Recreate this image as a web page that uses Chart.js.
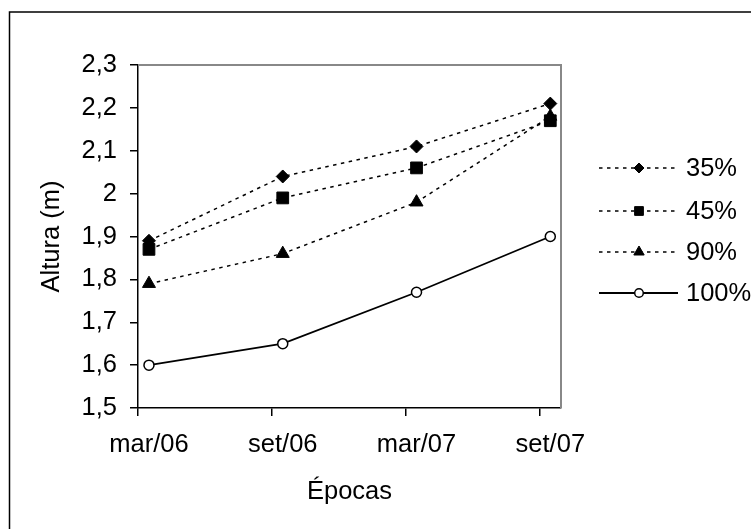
<!DOCTYPE html>
<html>
<head>
<meta charset="utf-8">
<script src="https://cdn.jsdelivr.net/npm/chart.js@4/dist/chart.umd.min.js"></script>
<style>
  body { margin: 0; background: #fff; }
  canvas { display: block; }
</style>
</head>
<body>
<canvas id="chart" width="751" height="529"></canvas>
<script>
// data
var epocas = ["mar/06", "set/06", "mar/07", "set/07"];
var serie35 = [1.89, 2.04, 2.11, 2.21];
var serie45 = [1.87, 1.99, 2.06, 2.17];
var serie90 = [1.79, 1.86, 1.98, 2.18];
var serie100 = [1.60, 1.65, 1.77, 1.90];
var yTicks = [1.5, 1.6, 1.7, 1.8, 1.9, 2.0, 2.1, 2.2, 2.3];

var FONT = "'Liberation Sans', Arial, sans-serif";
var fontSize = 25.5;

function pts(arr) {
	return arr.map(function (v, i) { return { x: i, y: v }; });
}

var dash = [3.5, 4.5];

var datasets = [
	{ label: "35%", data: pts(serie35), borderColor: "#000", borderWidth: 1.5, borderDash: dash,
	  pointStyle: "rectRot", pointRadius: 6.5, pointBackgroundColor: "#000", pointBorderColor: "#000", pointBorderWidth: 1, legendRadius: 5 },
	{ label: "45%", data: pts(serie45), borderColor: "#000", borderWidth: 1.5, borderDash: dash,
	  pointStyle: "rect", pointRadius: 8.3, pointBackgroundColor: "#000", pointBorderColor: "#000", pointBorderWidth: 1, legendRadius: 6.2 },
	{ label: "90%", data: pts(serie90), borderColor: "#000", borderWidth: 1.5, borderDash: dash,
	  pointStyle: "triangle", pointRadius: 7.5, pointBackgroundColor: "#000", pointBorderColor: "#000", pointBorderWidth: 1, legendRadius: 6 },
	{ label: "100%", data: pts(serie100), borderColor: "#000", borderWidth: 1.8,
	  pointStyle: "circle", pointRadius: 5, pointBackgroundColor: "#fff", pointBorderColor: "#000", pointBorderWidth: 1.5, legendRadius: 4.3 }
];

var framePlugin = {
	id: "frame",
	beforeDatasetsDraw: function (chart) {
		var ctx = chart.ctx, a = chart.chartArea;
		ctx.save();
		ctx.strokeStyle = "#888";
		ctx.lineWidth = 2;
		ctx.beginPath();
		ctx.moveTo(a.left, a.top);
		ctx.lineTo(a.right, a.top);
		ctx.lineTo(a.right, a.bottom);
		ctx.stroke();
		ctx.restore();
	},
	afterDraw: function (chart) {
		var ctx = chart.ctx;
		ctx.save();
		// outer frame (cut off right and bottom)
		ctx.strokeStyle = "#000";
		ctx.lineWidth = 1.5;
		ctx.strokeRect(9.5, 12, 1000, 1000);

		// legend
		var rows = [168, 211, 252, 293];
		chart.data.datasets.forEach(function (ds, i) {
			var y = rows[i];
			ctx.strokeStyle = "#000";
			ctx.lineWidth = ds.borderWidth;
			ctx.setLineDash(ds.borderDash || []);
			ctx.beginPath();
			ctx.moveTo(599, y);
			ctx.lineTo(678, y);
			ctx.stroke();
			ctx.setLineDash([]);
			ctx.fillStyle = ds.pointBackgroundColor;
			ctx.strokeStyle = ds.pointBorderColor;
			ctx.lineWidth = ds.pointBorderWidth;
			Chart.helpers.drawPoint(ctx, { pointStyle: ds.pointStyle, radius: ds.legendRadius, rotation: 0, borderWidth: ds.pointBorderWidth }, 639, y);
			ctx.fillStyle = "#000";
			ctx.font = fontSize + "px " + FONT;
			ctx.textAlign = "left";
			ctx.textBaseline = "middle";
			ctx.fillText(ds.label, 686, y + 1);
		});
		ctx.restore();
	}
};

var ctx = document.getElementById("chart").getContext("2d");
var chart = new Chart(ctx, {
	type: "line",
	data: { datasets: datasets },
	plugins: [framePlugin],
	options: {
		responsive: false,
		animation: false,
		layout: { padding: { left: 10, top: 65, right: 190, bottom: 0 } },
		plugins: { legend: { display: false }, tooltip: { enabled: false } },
		scales: {
			x: {
				type: "linear",
				min: -0.082,
				max: 3.08,
				afterBuildTicks: function (scale) {
					scale.ticks = epocas.map(function (c, i) { return { value: i - 0.082 }; });
				},
				afterFit: function (scale) { scale.height = 121; },
				grid: { display: true, drawOnChartArea: false, drawTicks: true, tickLength: 8, color: "#000", lineWidth: 1.5 },
				border: { display: true, color: "#000", width: 1.5 },
				ticks: {
					autoSkip: false, maxRotation: 0, padding: 14, labelOffset: 11,
					color: "#000", font: { family: FONT, size: fontSize },
					callback: function (v, i) { return epocas[i]; }
				},
				title: { display: true, text: "Épocas", color: "#000", font: { family: FONT, size: fontSize }, padding: { top: 0, bottom: 22 } }
			},
			y: {
				min: 1.5,
				max: 2.3,
				afterBuildTicks: function (scale) {
					scale.ticks = yTicks.map(function (v) { return { value: v }; });
				},
				afterFit: function (scale) { scale.width = 128; },
				grid: { display: true, drawOnChartArea: false, drawTicks: true, tickLength: 8, color: "#000", lineWidth: 1.5 },
				border: { display: true, color: "#000", width: 1.5 },
				ticks: {
					padding: 13, color: "#000", font: { family: FONT, size: fontSize },
					callback: function (v) { return String(Number(v.toFixed(1))).replace(".", ","); }
				},
				title: { display: true, text: "Altura (m)", color: "#000", font: { family: FONT, size: fontSize }, padding: { top: 27, bottom: 0 } }
			}
		}
	}
});
</script>
</body>
</html>
